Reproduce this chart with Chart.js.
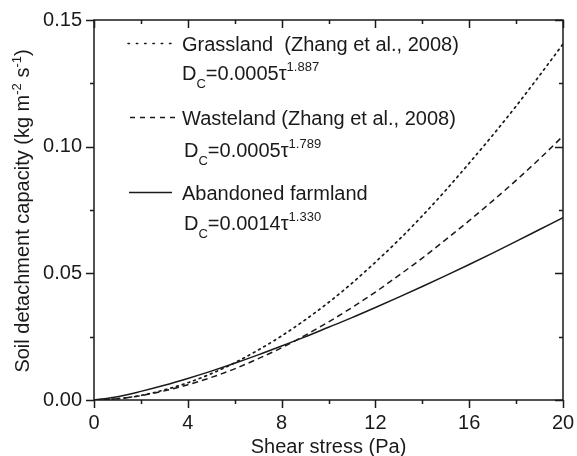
<!DOCTYPE html>
<html lang="en">
<head>
    <meta charset="UTF-8">
    <title>Soil detachment capacity vs shear stress</title>
    <script src="https://cdn.jsdelivr.net/npm/chart.js"></script>
    <style>
        html, body { margin: 0; padding: 0; background: #fff; }
        #wrap { width: 577px; height: 456px; }
    </style>
</head>
<body>
    <div id="wrap"><canvas id="chart" width="577" height="456"></canvas></div>

    <script>
        // shear stress (Pa)
        const shearStress = [0, 1, 2, 3, 4, 5, 6, 7, 8, 9, 10, 11, 12, 13, 14, 15, 16, 17, 18, 19, 20];
        // soil detachment capacity (kg m-2 s-1)
        const grassland = [0, 0.0005, 0.0018, 0.0040, 0.0068, 0.0104, 0.0147, 0.0197, 0.0253, 0.0316, 0.0385,
                           0.0461, 0.0544, 0.0632, 0.0727, 0.0828, 0.0935, 0.1045, 0.1160, 0.1281, 0.1405];
        const wasteland = [0, 0.0005, 0.0017, 0.0036, 0.0060, 0.0089, 0.0123, 0.0163, 0.0206, 0.0255, 0.0308,
                           0.0365, 0.0426, 0.0492, 0.0560, 0.0633, 0.0708, 0.0786, 0.0867, 0.0952, 0.1042];
        const abandoned = [0, 0.0013, 0.0034, 0.0058, 0.0085, 0.0114, 0.0145, 0.0178, 0.0213, 0.0249, 0.0287,
                           0.0325, 0.0365, 0.0406, 0.0448, 0.0491, 0.0535, 0.0580, 0.0626, 0.0673, 0.0720];

        const seriesNames = ["Grassland  (Zhang et al., 2008)", "Wasteland (Zhang et al., 2008)", "Abandoned farmland"];
        const coefficients = ["0.0005", "0.0005", "0.0014"];
        const exponents = ["1.887", "1.789", "1.330"];

        const xTickValues = [0, 4, 8, 12, 16, 20];
        const yTickValues = [0, 0.05, 0.10, 0.15];

        const FONT = "Arial, 'Liberation Sans', sans-serif";
        const INK = "#1a1a1a";

        function pts(ys) {
            return shearStress.map((x, i) => ({ x: x, y: ys[i] }));
        }

        // draws a run of text pieces, some raised or lowered
        function drawRich(ctx, parts, x, y) {
            let cx = x;
            parts.forEach(p => {
                ctx.font = p.size + "px " + FONT;
                ctx.fillText(p.t, cx, y + (p.dy || 0));
                cx += ctx.measureText(p.t).width;
            });
            return cx - x;
        }

        function richWidth(ctx, parts) {
            let w = 0;
            parts.forEach(p => {
                ctx.font = p.size + "px " + FONT;
                w += ctx.measureText(p.t).width;
            });
            return w;
        }

        const decor = {
            id: "decor",
            afterDraw(chart) {
                const ctx = chart.ctx;
                const a = chart.chartArea;
                const xs = chart.scales.x, ys = chart.scales.y;
                ctx.save();

                // frame
                ctx.strokeStyle = INK;
                ctx.lineWidth = 1.5;
                ctx.setLineDash([]);
                ctx.strokeRect(a.left, a.top, a.right - a.left, a.bottom - a.top);

                // ticks: bottom/left outward, top/right inward
                ctx.beginPath();
                for (let k = 0; k <= 10; k++) {
                    const px = Math.round(xs.getPixelForValue(k * 2)) + 0.5;
                    const len = k % 2 === 0 ? 8 : 4;
                    ctx.moveTo(px, a.bottom); ctx.lineTo(px, a.bottom + len);
                    ctx.moveTo(px, a.top); ctx.lineTo(px, a.top + len);
                }
                for (let k = 0; k <= 6; k++) {
                    const py = Math.round(ys.getPixelForValue(k * 0.025)) + 0.5;
                    const len = k % 2 === 0 ? 8 : 4;
                    ctx.moveTo(a.left - len, py); ctx.lineTo(a.left, py);
                    ctx.moveTo(a.right - len, py); ctx.lineTo(a.right, py);
                }
                ctx.stroke();

                ctx.fillStyle = INK;
                ctx.textBaseline = "alphabetic";
                ctx.textAlign = "left";

                // x axis title
                ctx.font = "20px " + FONT;
                ctx.textAlign = "center";
                ctx.fillText("Shear stress (Pa)", (a.left + a.right) / 2, 453);
                ctx.textAlign = "left";

                // y axis title with superscripts
                const yTitle = [
                    { t: "Soil detachment capacity (kg m", size: 20 },
                    { t: "-2", size: 13, dy: -8 },
                    { t: " s", size: 20 },
                    { t: "-1", size: 13, dy: -8 },
                    { t: ")", size: 20 }
                ];
                ctx.save();
                ctx.translate(29, 211);
                ctx.rotate(-Math.PI / 2);
                drawRich(ctx, yTitle, -richWidth(ctx, yTitle) / 2, 0);
                ctx.restore();

                // legend
                const rows = [
                    { dash: [1.5, 6.8], cap: "round", lineY: 43.5, x1: 128, x2: 172, textY: 51, fY: 80 },
                    { dash: [5, 5], cap: "butt", lineY: 117.5, x1: 130, x2: 175, textY: 125, fY: 157 },
                    { dash: [], cap: "butt", lineY: 192.5, x1: 129, x2: 172, textY: 200, fY: 230 }
                ];
                rows.forEach((r, i) => {
                    ctx.beginPath();
                    ctx.lineWidth = 1.5;
                    ctx.lineCap = r.cap;
                    ctx.setLineDash(r.dash);
                    ctx.moveTo(r.x1, r.lineY);
                    ctx.lineTo(r.x2, r.lineY);
                    ctx.stroke();
                    ctx.setLineDash([]);
                    ctx.lineCap = "butt";

                    ctx.font = "20px " + FONT;
                    ctx.fillText(seriesNames[i], 182, r.textY);
                    drawRich(ctx, [
                        { t: "D", size: 20 },
                        { t: "C", size: 13, dy: 8 },
                        { t: "=" + coefficients[i] + "\u03C4", size: 20 },
                        { t: exponents[i], size: 13, dy: -9 }
                    ], i === 0 ? 182 : 184, r.fY);
                });

                ctx.restore();
            }
        };

        const lineStyle = { borderColor: INK, borderWidth: 1.5, pointRadius: 0, fill: false, cubicInterpolationMode: "monotone" };

        new Chart(document.getElementById("chart").getContext("2d"), {
            type: "line",
            data: {
                datasets: [
                    Object.assign({ label: seriesNames[0], data: pts(grassland), borderDash: [1.8, 4.2], borderCapStyle: "round", borderWidth: 1.7 }, { borderColor: INK, pointRadius: 0, fill: false, cubicInterpolationMode: "monotone" }),
                    Object.assign({ label: seriesNames[1], data: pts(wasteland), borderDash: [6, 4] }, lineStyle),
                    Object.assign({ label: seriesNames[2], data: pts(abandoned) }, lineStyle)
                ]
            },
            options: {
                responsive: false,
                animation: false,
                layout: { padding: { top: 20, right: 14, left: 0, bottom: 0 } },
                plugins: { legend: { display: false }, tooltip: { enabled: false } },
                scales: {
                    x: {
                        type: "linear",
                        min: 0,
                        max: 20,
                        afterFit: s => { s.height = 56; s.paddingLeft = 0; s.paddingRight = 0; },
                        afterBuildTicks: s => { s.ticks = xTickValues.map(v => ({ value: v })); },
                        grid: { display: false, drawTicks: false },
                        border: { display: false },
                        ticks: { color: INK, font: { size: 20, family: FONT }, padding: 11, maxRotation: 0, callback: v => String(v) }
                    },
                    y: {
                        type: "linear",
                        min: 0,
                        max: 0.15,
                        afterFit: s => { s.width = 94; s.paddingTop = 0; s.paddingBottom = 0; },
                        afterBuildTicks: s => { s.ticks = yTickValues.map(v => ({ value: v })); },
                        grid: { display: false, drawTicks: false },
                        border: { display: false },
                        ticks: { color: INK, font: { size: 20, family: FONT }, padding: 12, callback: v => Number(v).toFixed(2) }
                    }
                }
            },
            plugins: [decor]
        });
    </script>
</body>
</html>
